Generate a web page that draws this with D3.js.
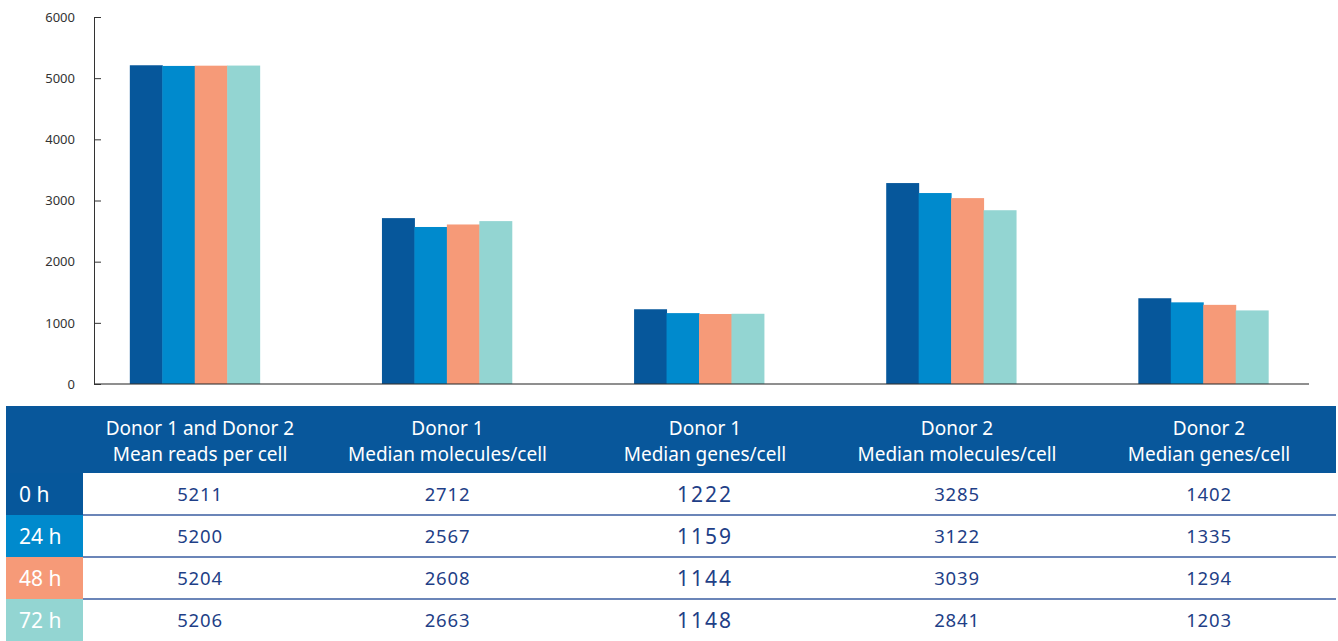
<!DOCTYPE html>
<html>
<head>
<meta charset="utf-8">
<script src="https://cdn.jsdelivr.net/npm/d3@7"></script>
<style>
  body { margin: 0; background: #fff; }
  svg { display: block; font-family: "Noto Sans", sans-serif; }
</style>
</head>
<body>
<svg id="chart" width="1338" height="641"></svg>
<script>
// data
const times = ["0 h", "24 h", "48 h", "72 h"]
const metrics = [
    ["Donor 1 and Donor 2", "Mean reads per cell"],
    ["Donor 1", "Median molecules/cell"],
    ["Donor 1", "Median genes/cell"],
    ["Donor 2", "Median molecules/cell"],
    ["Donor 2", "Median genes/cell"]
]
const values0h = [5211, 2712, 1222, 3285, 1402]
const values24h = [5200, 2567, 1159, 3122, 1335]
const values48h = [5204, 2608, 1144, 3039, 1294]
const values72h = [5206, 2663, 1148, 2841, 1203]
const yTicks = [0, 1000, 2000, 3000, 4000, 5000, 6000]

const series = [values0h, values24h, values48h, values72h]
const colors = ["#06579b", "#008acd", "#f69a78", "#93d5d2"]

// layout
const PLOT = {left: 94, right: 1309, top: 17, bottom: 384}
const TABLE = {left: 6, labelRight: 83, right: 1336, top: 406, headBottom: 473, rowH: 42}
const tableCols = [83, 317, 578, 832, 1082, 1336]

let svg = d3.select("#chart")

// scales
let x0 = d3.scaleBand()
    .domain(d3.range(metrics.length))
    .range([92, 1306])
    .paddingInner(0.485)
    .paddingOuter(0.15)
let x1 = d3.scaleBand()
    .domain(d3.range(times.length))
    .range([0, x0.bandwidth()])
let y = d3.scaleLinear()
    .domain([0, 6000])
    .range([PLOT.bottom, PLOT.top])

// bars
let groups = svg.append("g").attr("class", "bars")
    .selectAll("g")
    .data(metrics.map((m, i) => series.map((s, t) => ({metric: i, time: t, value: s[i]}))))
    .join("g")
    .attr("transform", (d, i) => `translate(${x0(i)},0)`)

groups.selectAll("rect")
    .data(d => d)
    .join("rect")
    .attr("x", d => x1(d.time))
    .attr("y", d => y(d.value))
    .attr("width", x1.bandwidth() + 0.5)
    .attr("height", d => y(0) - y(d.value))
    .attr("fill", d => colors[d.time])

// y axis, ticks pointing inward
let yAxis = svg.append("g")
    .attr("transform", `translate(${PLOT.left},0)`)
    .call(d3.axisLeft(y)
        .tickValues(yTicks)
        .tickFormat(d3.format("d"))
        .tickSizeInner(-7)
        .tickSizeOuter(0)
        .tickPadding(19))
yAxis.select(".domain").attr("stroke", "#333")
yAxis.selectAll(".tick line").attr("stroke", "#333")
yAxis.selectAll(".tick text")
    .attr("fill", "#333")
    .style("font-size", "13px")
    .style("font-family", "'Noto Sans', sans-serif")

// x baseline, drawn over the bars
svg.append("line")
    .attr("x1", PLOT.left).attr("x2", PLOT.right)
    .attr("y1", y(0)).attr("y2", y(0))
    .attr("stroke", "#333")
    .attr("stroke-opacity", 0.55)
    .attr("stroke-width", 2)

// table
let table = svg.append("g").attr("class", "table")

table.append("rect")
    .attr("x", TABLE.left).attr("y", TABLE.top)
    .attr("width", TABLE.right - TABLE.left)
    .attr("height", TABLE.headBottom - TABLE.top)
    .attr("fill", "#08579b")

let colCenter = i => (tableCols[i] + tableCols[i + 1]) / 2

let head = table.selectAll("text.head")
    .data(metrics)
    .join("text")
    .attr("class", "head")
    .attr("text-anchor", "middle")
    .attr("fill", "#fff")
    .style("font-size", "19px")
head.selectAll("tspan")
    .data((d, i) => d.map(line => ({line, i})))
    .join("tspan")
    .attr("x", d => colCenter(d.i))
    .attr("y", (d, j) => 435 + j * 26)
    .text(d => d.line)

// row label cells
let rowTop = i => TABLE.headBottom + i * TABLE.rowH
table.selectAll("rect.rowlabel")
    .data(times)
    .join("rect")
    .attr("class", "rowlabel")
    .attr("x", TABLE.left).attr("y", (d, i) => rowTop(i))
    .attr("width", TABLE.labelRight - TABLE.left)
    .attr("height", TABLE.rowH + 0.5)
    .attr("fill", (d, i) => colors[i])

table.selectAll("text.rowlabel")
    .data(times)
    .join("text")
    .attr("class", "rowlabel")
    .attr("x", 19)
    .attr("y", (d, i) => rowTop(i) + TABLE.rowH / 2)
    .attr("dy", "0.36em")
    .attr("fill", "#fff")
    .style("font-size", "21px")
    .text(d => d)

// row separators
table.selectAll("line.sep")
    .data(times.slice(0, -1))
    .join("line")
    .attr("class", "sep")
    .attr("x1", TABLE.labelRight).attr("x2", TABLE.right)
    .attr("y1", (d, i) => rowTop(i + 1)).attr("y2", (d, i) => rowTop(i + 1))
    .attr("stroke", "#3a5ca0")
    .attr("stroke-width", 1.4)

// values
series.forEach((s, t) => {
    table.selectAll(`text.val${t}`)
        .data(s)
        .join("text")
        .attr("class", `val${t}`)
        .attr("x", (d, i) => colCenter(i))
        .attr("y", rowTop(t) + TABLE.rowH / 2)
        .attr("dy", "0.36em")
        .attr("text-anchor", "middle")
        .attr("fill", "#1f3f87")
        // the genes/cell column for donor 1 is set a bit larger in the original
        .style("font-size", (d, i) => i === 2 ? "21px" : "18.5px")
        .style("letter-spacing", (d, i) => i === 2 ? "2px" : "0.8px")
        .text(d => d)
})
</script>
</body>
</html>
